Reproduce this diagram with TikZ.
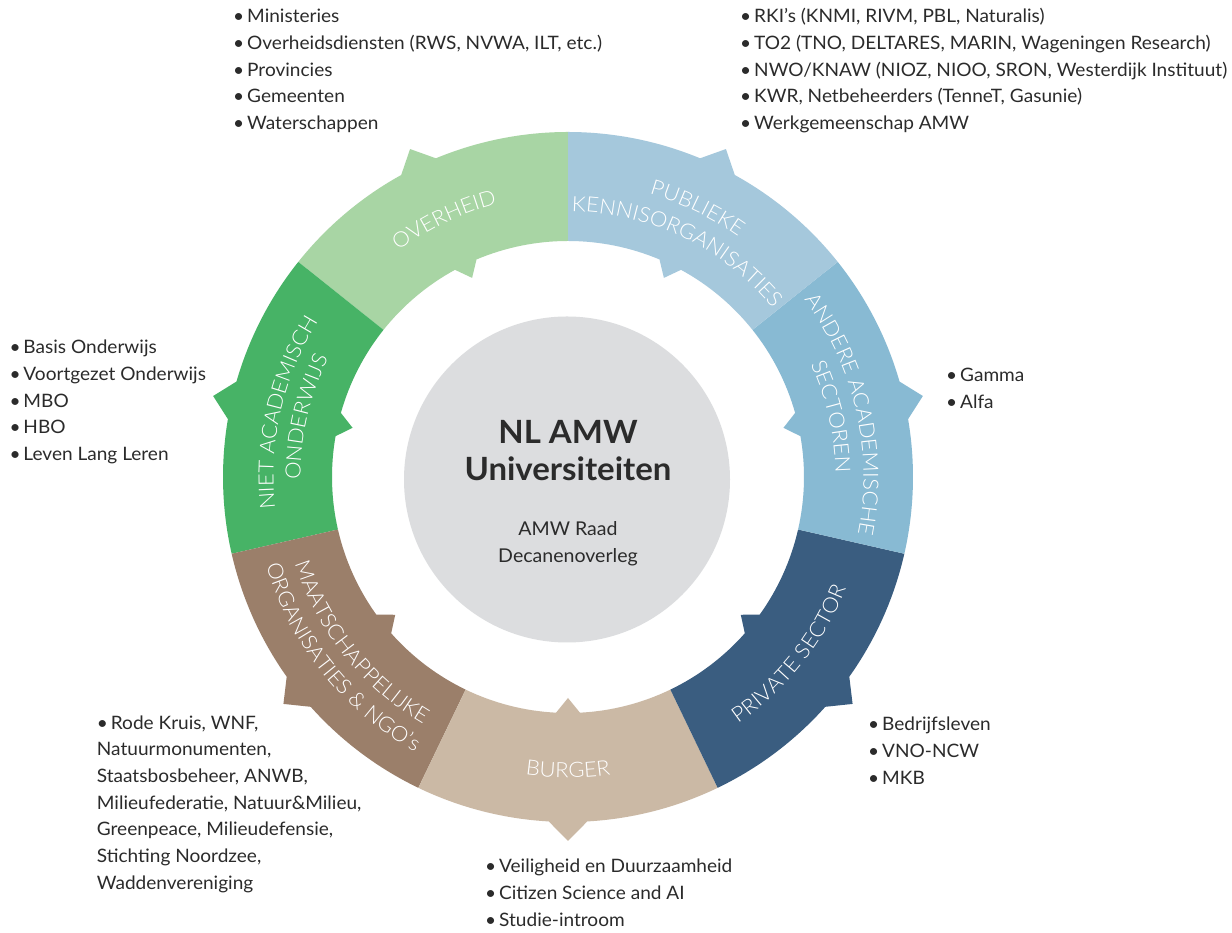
\documentclass[tikz,border=0pt]{standalone}
\usepackage{fontspec}
\setmainfont{Lato}[FakeStretch=1.03]
\IfFontExistsTF{Lato Light}{\newfontfamily\labfnt{Lato Light}[FakeStretch=1.05]}{\newfontfamily\labfnt{Lato}[FakeStretch=1.05]}
\usetikzlibrary{decorations.text}

% segment colours
\definecolor{ovcol}{HTML}{A8D5A4}
\definecolor{nacol}{HTML}{47B366}
\definecolor{mocol}{HTML}{9B7F6A}
\definecolor{bgcol}{HTML}{CBB9A5}
\definecolor{pscol}{HTML}{3A5D80}
\definecolor{ascol}{HTML}{88BAD3}
\definecolor{pkcol}{HTML}{A5C8DC}
\definecolor{coregray}{HTML}{DCDDDF}
\definecolor{txtcol}{HTML}{2B2B2B}

% ring geometry
\def\Rout{345pt}
\def\Rtip{364pt}
\def\Rin{236pt}
\def\Rnotch{221pt}
\def\dOut{3.2}
\def\dIn{2.9}

% one coloured ring segment (51.43 degrees) with its two barbs
\newcommand\ringsegment[2]{%
  \pgfmathsetmacro\segA{#2}%
  \pgfmathsetmacro\segB{#2+360/7}%
  \pgfmathsetmacro\segM{#2+180/7}%
  \pgfmathsetmacro\segOa{\segM-\dOut}%
  \pgfmathsetmacro\segOb{\segM+\dOut}%
  \pgfmathsetmacro\segIa{\segM-\dIn}%
  \pgfmathsetmacro\segIb{\segM+\dIn}%
  \fill[#1] (\segA:\Rout) arc[start angle=\segA, end angle=\segOa, radius=\Rout]
    -- (\segM:\Rtip) -- (\segOb:\Rout)
    arc[start angle=\segOb, end angle=\segB, radius=\Rout]
    -- (\segB:\Rin) arc[start angle=\segB, end angle=\segIb, radius=\Rin]
    -- (\segM:\Rnotch) -- (\segIa:\Rin)
    arc[start angle=\segIa, end angle=\segA, radius=\Rin] -- cycle;}

% white label written along an arc: radius, start angle, end angle, text
\newcommand\arclabel[4]{%
  \path[decorate, decoration={text along path, text align=center, text color=white,
      text={|\labfnt\fontsize{21}{21}\selectfont|#4}}]
    (#2:#1) arc[start angle=#2, end angle=#3, radius=#1];}

\newcommand\bul{\makebox[14pt][l]{•}}

\tikzset{
  item/.style={anchor=base west, inner sep=0pt, text=txtcol,
    font=\fontsize{18.5}{22}\selectfont},
  coretitle/.style={anchor=base, inner sep=0pt, text=txtcol,
    font=\bfseries\fontsize{32}{34}\selectfont},
  coresub/.style={anchor=base, inner sep=0pt, text=txtcol,
    font=\fontsize{19}{22}\selectfont}
}

\begin{document}
\begin{tikzpicture}[x=1pt, y=1pt]
\useasboundingbox (0,0) rectangle (1232,933);
\fill[white] (0,0) rectangle (1232,933);

% centre disc
\node[circle, fill=coregray, minimum size=326pt, inner sep=0pt] (core) at (567,453.5) {};
\node[coretitle] (title1) at (568,489.7) {NL AMW};
\node[coretitle] (title2) at (568,452.3) {Universiteiten};
\node[coresub] (sub1) at (568,397) {AMW Raad};
\node[coresub] (sub2) at (568,370.3) {Decanenoverleg};

% ring of seven partner groups
\begin{scope}[shift={(568,456)}]
  \ringsegment{ovcol}{90}
  \ringsegment{nacol}{90+360/7}
  \ringsegment{mocol}{90+720/7}
  \ringsegment{bgcol}{90+1080/7}
  \ringsegment{pscol}{90+1440/7}
  \ringsegment{ascol}{90+1800/7}
  \ringsegment{pkcol}{90+2160/7}

  \arclabel{282.5pt}{155.7}{75.7}{OVERHEID}
  \arclabel{294.5pt}{104.3}{24.3}{PUBLIEKE}
  \arclabel{265.5pt}{104.3}{24.3}{KENNISORGANISATIES}
  \arclabel{294.5pt}{207.1}{127.1}{NIET ACADEMISCH}
  \arclabel{267.5pt}{207.1}{127.1}{ONDERWIJS}
  \arclabel{295.5pt}{52.9}{-27.1}{ANDERE ACADEMISCHE}
  \arclabel{267.5pt}{52.9}{-27.1}{SECTOREN}
  \arclabel{299.5pt}{281.4}{361.4}{PRIVATE SECTOR}
  \arclabel{300.5pt}{230}{310}{BURGER}
  \arclabel{286.5pt}{178.6}{258.6}{MAATSCHAPPELIJKE}
  \arclabel{314.5pt}{178.6}{258.6}{ORGANISATIES {\&} NGO’s}
\end{scope}

% member lists
\foreach \itm [count=\i from 0] in {Ministeries, {Overheidsdiensten (RWS, NVWA, ILT, etc.)}, Provincies, Gemeenten, Waterschappen}
  \node[item] (ov\i) at (233,910-26.67*\i) {\bul\itm};

\foreach \itm [count=\i from 0] in {{RKI’s (KNMI, RIVM, PBL, Naturalis)}, {TO2 (TNO, DELTARES, MARIN, Wageningen Research)}, {NWO/KNAW (NIOZ, NIOO, SRON, Westerdijk Instituut)}, {KWR, Netbeheerders (TenneT, Gasunie)}, Werkgemeenschap AMW}
  \node[item] (pk\i) at (740,910-26.67*\i) {\bul\itm};

\foreach \itm [count=\i from 0] in {Basis Onderwijs, Voortgezet Onderwijs, MBO, HBO, Leven Lang Leren}
  \node[item] (na\i) at (9.3,579-26.67*\i) {\bul\itm};

\foreach \itm [count=\i from 0] in {Gamma, Alfa}
  \node[item] (as\i) at (946,551.5-26.67*\i) {\bul\itm};

\foreach \itm [count=\i from 0] in {Bedrijfsleven, VNO-NCW, MKB}
  \node[item] (ps\i) at (868,202-26.67*\i) {\bul\itm};

\foreach \itm [count=\i from 0] in {Veiligheid en Duurzaamheid, Citizen Science and AI, Studie-introom}
  \node[item] (bg\i) at (485,60-26.67*\i) {\bul\itm};

\node[item] (mo0) at (96.7,203.7) {\bul Rode Kruis, WNF,};
\foreach \itm [count=\i from 1] in {Natuurmonumenten{,}, {Staatsbosbeheer, ANWB,}, {Milieufederatie, Natuur\&Milieu,}, {Greenpeace, Milieudefensie,}, {Stichting Noordzee,}, Waddenvereniging}
  \node[item] (mo\i) at (96.7,203.7-26.67*\i) {\itm};
\end{tikzpicture}
\end{document}
